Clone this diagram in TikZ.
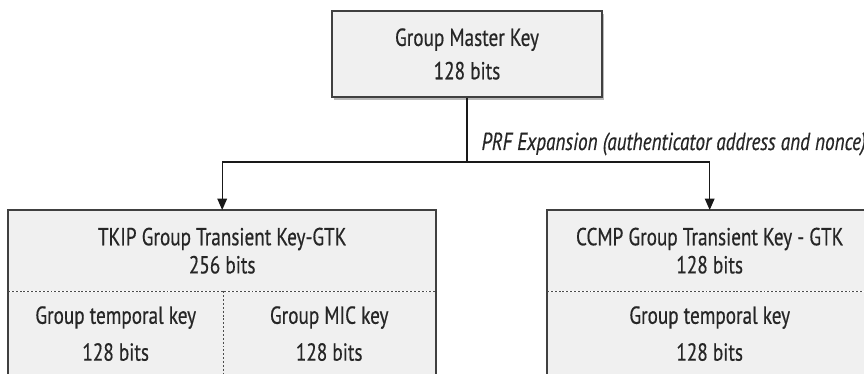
\documentclass[tikz,border=0pt]{standalone}
\usepackage{fontspec}
\setmainfont{PT Sans}[FakeStretch=0.78, FakeBold=0.5,
  ItalicFeatures={FakeStretch=0.78, FakeBold=0.5}]
\usetikzlibrary{arrows.meta, shadows}

\begin{document}
\begin{tikzpicture}[thick,
  keyfill/.style={fill=gray!12, inner sep=0pt, align=center, text=black!85,
    font=\fontsize{14}{16}\selectfont},
  boxline/.style={draw=black!75, line width=1.1pt},
  sepline/.style={draw=black!70, line width=0.8pt, dash pattern=on 1.1pt off 1.1pt},
  link/.style={draw=black!90, line width=0.8pt, -{Triangle[width=5.5pt, length=6.5pt]}}]
  \useasboundingbox (0, 0) rectangle (17.28, 7.48);

  % Master key
  \node[keyfill, boxline, minimum width=5.4cm, minimum height=1.72cm,
    drop shadow={shadow xshift=1.2pt, shadow yshift=-1.6pt, fill=gray!55, opacity=1}]
    (gmk) at (9.34, 6.40) {Group Master Key\\[3pt]128 bits};

  % TKIP box
  \node[keyfill, minimum width=8.54cm, minimum height=1.6cm, anchor=north west]
    (tkhead) at (0.16, 3.28) {TKIP Group Transient Key-GTK\\256 bits};
  \node[keyfill, minimum width=4.28cm, minimum height=1.66cm, anchor=north west]
    (tktemp) at (tkhead.south west) {Group temporal key\\[5pt]128 bits};
  \node[keyfill, minimum width=4.26cm, minimum height=1.66cm, anchor=north east]
    (tkmic) at (tkhead.south east) {Group MIC key\\[5pt]128 bits};
  \draw[boxline] (tkhead.north west) rectangle (tkmic.south east);
  \draw[sepline] (tkhead.south west) -- (tkhead.south east);
  \draw[sepline] (tktemp.north east) -- (tktemp.south east);

  % CCMP box
  \node[keyfill, minimum width=6.48cm, minimum height=1.6cm, anchor=north west]
    (cchead) at (10.94, 3.28) {CCMP Group Transient Key - GTK\\128 bits};
  \node[keyfill, minimum width=6.48cm, minimum height=1.66cm, anchor=north west]
    (cctemp) at (cchead.south west) {Group temporal key\\[5pt]128 bits};
  \draw[boxline] (cchead.north west) rectangle (cctemp.south east);
  \draw[sepline] (cchead.south west) -- (cchead.south east);

  % PRF expansion
  \coordinate (split) at (gmk.south |- 0, 4.24);
  \draw[draw=black!90, line width=0.8pt] (gmk.south) -- (split);
  \draw[link] (split) -| (tkhead.north);
  \draw[link] (split) -| (cchead.north);
  \node[anchor=base west, text=black!85, font=\fontsize{14}{16}\selectfont\itshape]
    (prf) at ([xshift=0.16cm, yshift=0.24cm]split)
    {PRF Expansion (authenticator address and nonce)};

\end{tikzpicture}
\end{document}
